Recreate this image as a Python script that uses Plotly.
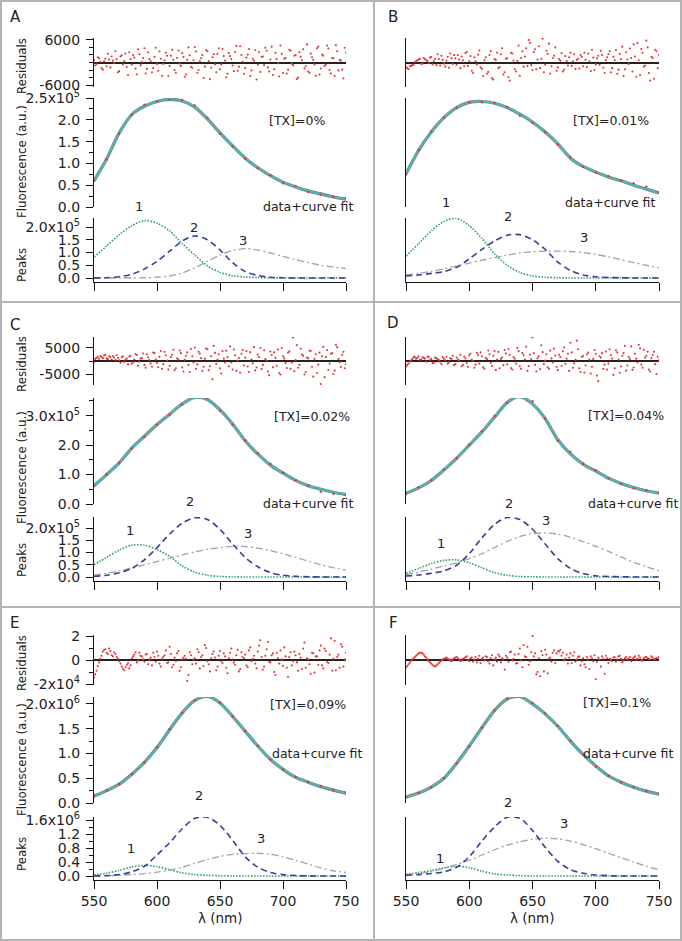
import numpy as np
import plotly.graph_objects as go

W, H = 682, 941
FONT = "DejaVu Sans"

# ---------------- data ----------------
wl_curve = list(range(550, 751, 10))          # wavelength grid for fits / peaks (nm)
x_ticks = [550, 600, 650, 700, 750]

panel_letters = ["A", "B", "C", "D", "E", "F"]
tx_text = ["[TX]=0%", "[TX]=0.01%", "[TX]=0.02%", "[TX]=0.04%", "[TX]=0.09%", "[TX]=0.1%"]
units = [1e5, 1e5, 1e5, 1e5, 1e6, 1e6]        # unit of the fit / peak values below

fit_A = [0.60, 1.10, 1.70, 2.12, 2.31, 2.42, 2.47, 2.43, 2.29, 2.02, 1.70, 1.40, 1.12, 0.90, 0.72, 0.57, 0.46, 0.37, 0.30, 0.23, 0.18]
p1_A = [0.82, 1.25, 1.70, 2.05, 2.25, 2.15, 1.85, 1.35, 0.90, 0.48, 0.22, 0.09, 0.04, 0.02, 0.01, 0.0, 0, 0, 0, 0, 0]
p2_A = [0.0, 0.01, 0.05, 0.15, 0.35, 0.65, 1.05, 1.45, 1.65, 1.50, 1.10, 0.60, 0.25, 0.10, 0.03, 0.01, 0, 0, 0, 0, 0]
p3_A = [0, 0, 0, 0, 0.01, 0.03, 0.08, 0.20, 0.40, 0.65, 0.90, 1.08, 1.15, 1.10, 0.98, 0.85, 0.72, 0.60, 0.50, 0.43, 0.38]

fit_B = [0.76, 1.30, 1.72, 2.05, 2.28, 2.40, 2.42, 2.38, 2.28, 2.13, 1.95, 1.72, 1.45, 1.12, 0.93, 0.80, 0.69, 0.60, 0.50, 0.41, 0.32]
p1_B = [0.86, 1.35, 1.85, 2.22, 2.34, 2.05, 1.55, 0.95, 0.50, 0.22, 0.08, 0.03, 0.01, 0, 0, 0, 0, 0, 0, 0, 0]
p2_B = [0.08, 0.12, 0.18, 0.25, 0.42, 0.75, 1.12, 1.45, 1.68, 1.70, 1.50, 1.12, 0.62, 0.30, 0.12, 0.05, 0.02, 0.01, 0, 0, 0]
p3_B = [0.12, 0.18, 0.26, 0.36, 0.47, 0.58, 0.70, 0.80, 0.90, 0.98, 1.03, 1.05, 1.05, 1.04, 1.00, 0.93, 0.83, 0.72, 0.60, 0.50, 0.40]

fit_C = [0.62, 1.00, 1.40, 1.90, 2.30, 2.70, 3.05, 3.40, 3.62, 3.55, 3.20, 2.72, 2.15, 1.70, 1.32, 1.05, 0.80, 0.62, 0.50, 0.40, 0.32]
p1_C = [0.50, 0.80, 1.10, 1.30, 1.30, 1.12, 0.85, 0.45, 0.20, 0.07, 0.02, 0.01, 0, 0, 0, 0, 0, 0, 0, 0, 0]
p2_C = [0.03, 0.07, 0.17, 0.35, 0.70, 1.20, 1.75, 2.20, 2.42, 2.35, 1.95, 1.35, 0.80, 0.42, 0.18, 0.07, 0.03, 0.01, 0, 0, 0]
p3_C = [0.08, 0.15, 0.25, 0.37, 0.50, 0.63, 0.77, 0.90, 1.02, 1.13, 1.20, 1.25, 1.24, 1.18, 1.08, 0.95, 0.80, 0.65, 0.50, 0.38, 0.28]

fit_D = [0.37, 0.55, 0.80, 1.16, 1.55, 2.00, 2.45, 2.95, 3.45, 3.65, 3.40, 2.90, 2.18, 1.70, 1.35, 1.12, 0.88, 0.70, 0.56, 0.45, 0.37]
p1_D = [0.15, 0.35, 0.55, 0.68, 0.70, 0.58, 0.38, 0.18, 0.07, 0.02, 0.01, 0, 0, 0, 0, 0, 0, 0, 0, 0, 0]
p2_D = [0.04, 0.08, 0.15, 0.25, 0.48, 0.95, 1.60, 2.15, 2.43, 2.35, 1.95, 1.35, 0.75, 0.35, 0.14, 0.05, 0.02, 0.01, 0, 0, 0]
p3_D = [0.10, 0.20, 0.32, 0.45, 0.58, 0.75, 0.95, 1.20, 1.45, 1.65, 1.77, 1.80, 1.75, 1.62, 1.45, 1.25, 1.05, 0.82, 0.60, 0.42, 0.26]

fit_E = [0.14, 0.25, 0.38, 0.58, 0.82, 1.12, 1.48, 1.82, 2.07, 2.15, 2.02, 1.75, 1.45, 1.15, 0.88, 0.68, 0.52, 0.42, 0.33, 0.26, 0.20]
p1_E = [0.03, 0.08, 0.16, 0.26, 0.30, 0.27, 0.18, 0.09, 0.04, 0.02, 0.01, 0, 0, 0, 0, 0, 0, 0, 0, 0, 0]
p2_E = [0.0, 0.01, 0.04, 0.12, 0.28, 0.60, 0.95, 1.35, 1.65, 1.68, 1.45, 1.02, 0.55, 0.25, 0.10, 0.04, 0.015, 0.005, 0, 0, 0]
p3_E = [0.0, 0.01, 0.02, 0.04, 0.07, 0.11, 0.17, 0.25, 0.36, 0.47, 0.56, 0.62, 0.64, 0.65, 0.62, 0.55, 0.45, 0.34, 0.23, 0.15, 0.10]

fit_F = [0.12, 0.20, 0.32, 0.50, 0.80, 1.15, 1.52, 1.87, 2.10, 2.15, 2.00, 1.80, 1.55, 1.25, 0.98, 0.75, 0.55, 0.42, 0.32, 0.24, 0.18]
p1_F = [0.05, 0.10, 0.16, 0.23, 0.28, 0.24, 0.14, 0.06, 0.03, 0.01, 0, 0, 0, 0, 0, 0, 0, 0, 0, 0, 0]
p2_F = [0.02, 0.04, 0.07, 0.12, 0.25, 0.55, 1.00, 1.40, 1.68, 1.65, 1.30, 0.82, 0.42, 0.18, 0.08, 0.03, 0.01, 0, 0, 0, 0]
p3_F = [0.03, 0.07, 0.13, 0.22, 0.33, 0.45, 0.60, 0.75, 0.88, 0.98, 1.05, 1.08, 1.06, 1.00, 0.90, 0.78, 0.65, 0.52, 0.40, 0.28, 0.18]

# residuals at even nm (550..750) and odd nm (551..749)
res_A = [600, -400, 1100, -1500, 300, -1000, 800, 1600, -200, 900,
         -2300, 1900, 400, -1200, 2700, -600, 1300, -3100, 2200, 100,
         3800, -1700, 900, -2600, 1500, -400, 2900, -3500, 600, 1800,
         -900, 3400, -2000, 1200, -300, 2500, -3800, 700, 1900, -1400,
         4100, -2700, 300, 2000, -1100, 3000, -4400, 1400, -500, 2300,
         -1800, 3600, 500, -3000, 1700, -800, 2800, -2200, 4300, 200,
         -1500, 2100, -3600, 1000, 3300, -600, -2500, 1600, 3900, -1300,
         800, -3300, 2600, -200, 4500, -2800, 1200, -1900, 3100, -700,
         2000, -4000, 1500, 3500, -1000, -2400, 2400, 700, -3500, 4200,
         -1600, 1800, -600, 3700, -2900, 1100, 4600, -2100, 500, -4200,
         2600]
res_A_odd = [-800, 1400, 200, -1900, 1000, 2300, -1300, 500, 3000, -2600,
             1600, -500, 2400, -3300, 900, 2000, -1600, 3500, -700, 1200,
             -2900, 2700, 300, -1500, 3900, -2200, 1000, -400, 2600, -3600,
             1800, 700, -2700, 3200, -900, 1500, -3200, 4000, -1200, 600,
             2900, -2000, 1100, -4100, 3300, 400, -1400, 2200, -2600, 3800,
             -500, 1700, -3900, 2500, 900, -2300, 4400, -1100, 2000, -3000,
             1300, 3600, -2100, 500, -4500, 2800, 1500, -700, 3100, -2400,
             4200, -1800, 900, -3700, 2300, 1000, -2900, 3400, -300, 1800,
             -4400, 2700, 600, -1600, 4800, -2700, 1400, -500, 3800, -3200,
             2100, -900, 4500, -2000, 1200, -3600, 3000, 700, -1900, 3900]
res_B = [-1200, -1800, -900, -600, 300, 800, -400, 1200, 600, -200,
         1500, 400, -700, 900, 1800, -300, 500, -1400, 1100, 2000,
         -600, 800, 1600, -1000, 2800, 300, -2200, 1400, -500, 3200,
         -1700, 600, -3000, 2000, -4200, 900, 2600, -1200, 3800, -2600,
         1100, -4800, 2400, -1800, 400, -3500, 3000, 1600, -900, 5200,
         -2000, 3500, 800, -1500, 6300, -600, 2300, -2900, 1200, 4000,
         -1300, 500, -2400, 1700, -800, 2600, 300, -1700, 1000, 2000,
         -1000, 700, 2400, -2300, 1300, -500, 1800, 3100, -1400, 600,
         2200, -2600, 1500, 3300, -1900, 900, -3600, 2700, -400, 1200,
         4800, -3800, 600, 3600, -1100, 5800, -2800, 1500, -4300, 3000,
         2000]
res_B_odd = [-1500, -1000, -700, 100, 600, 1000, -300, 900, 400, 1300,
             -500, 1000, 2200, -800, 700, -1100, 1500, 2400, -400, 1100,
             2000, -1500, 600, 2500, -900, 1700, -2800, 300, 2100, -1300,
             -3600, 1400, -2500, 3000, -4500, 700, -1500, 2200, -3200, 1000,
             -3900, 2600, 500, -2400, 4500, 1200, -1100, 3800, 6000, -700,
             2800, -1800, 4300, 1000, -2600, 3100, 5000, -1000, 1800, -2200,
             900, 2500, -1900, 400, 1400, -900, 2200, 700, -1600, 1500,
             2600, -1200, 300, 3400, -2000, 1100, -600, 2000, -2800, 1400,
             3000, -1500, 600, -3000, 2300, 4200, -1800, 800, 3700, -2400,
             1600, 5200, -3300, 2600, -800, 4000, -4800, 1200, 3400, -1500]
res_C = [-500, 1200, 800, 1500, 2100, 1000, 1800, 600, 1300, 2200,
         300, 1400, -400, 900, 1700, -1000, 600, 2300, -300, 1100,
         -1500, 2600, 400, -2200, 3000, -800, 1600, -3000, 3500, 200,
         -1800, 2400, -3500, 1000, 4000, -2500, 500, 3300, -4200, 1800,
         5200, -1300, 2800, -3800, 900, 4500, -2000, -7000, 3100, 600,
         -2800, 3800, -600, 1500, 5600, -3300, 2200, 200, -4500, 4200,
         1300, -2100, 3400, -900, -3600, 2500, 5000, -1500, 700, -4000,
         3600, -2400, 1200, 4400, -5200, 1800, -800, 3200, -3000, 9000,
         400, -2600, 4700, 2000, -4200, 1000, 3800, -6000, 2600, -1400,
         -8800, 5400, 1500, -3400, 2800, -5000, 6200, 800, -2300, 3500,
         -1200]
res_C_odd = [800, 1600, 1900, 1100, 2400, 700, 1500, 1900, 400, 1200,
             -700, 1800, 500, -1300, 2000, -500, 2700, -1800, 900, 2900,
             -2600, 1400, -1000, 3200, 600, -2400, 3800, -1200, 2200, -3300,
             1500, 4300, -2800, 600, 3000, -4000, 2000, -1500, 4600, -600,
             -3000, 3500, 1100, -2200, 4800, -3500, 1800, 5800, -1100, 2600,
             -4800, 900, 3900, -2000, -600, 4400, -3800, 1200, 2800, -1700,
             3800, -4200, 600, 5300, -2500, 1500, -3100, 4100, 200, -5500,
             2300, 3300, -1800, -4600, 5000, 1000, -2700, 3700, -600, -3900,
             6100, -1500, 2500, -5200, 1300, 4000, -2200, 800, -4600, 3200,
             1800, -6200, 4200, -1000, 3000, -3700, 5300, -500, 2400, -2800]
res_D = [-2000, -1000, 300, 1400, 900, 1800, 600, 1200, -300, 1500,
         800, -700, 1100, 400, -1200, 900, 1600, -500, 700, -1600,
         1300, 200, -2000, 1700, -800, 2200, 500, -2600, 3100, -1000,
         1800, -3000, 700, 2600, -1900, 3800, 600, -2800, 1400, 4200,
         -1300, 2300, -3300, 900, 5000, -2000, 3000, 600, -3800, 2500,
         9000, -1500, 1000, -3100, 3400, 200, -2400, 4000, -600, 2100,
         -3500, 1500, 3700, -1100, 2800, 7000, -2600, 500, 4500, -4200,
         1900, -1700, 3200, -4800, 800, 2700, -7700, 1300, -3000, 3600,
         -1000, 2200, -5300, 4100, 600, -2100, 3000, -3700, 1600, 5600,
         -2500, 900, 6200, -1400, 4300, 2000, -3300, 1100, 3500, -5000,
         400]
res_D_odd = [-1500, -300, 800, 1600, 1200, 500, 1400, 900, 1700, 400,
             -900, 1300, 700, -400, 1500, 300, -1000, 1100, 2000, -1200,
             600, 2400, -1500, 1000, -2200, 2800, 100, -1400, 2300, 3300,
             -2400, 1200, 4000, -700, 2000, -3500, 3500, 800, -1600, 2900,
             4600, -2700, 1500, -1000, 3800, -3000, 2200, 5500, -1900, 700,
             3000, -4000, 1800, 6000, -1200, 2600, -3000, 1000, 4800, -2300,
             2400, -1800, 5200, 900, -3800, 3300, -900, 7800, -2800, 1600,
             -4400, 2500, 600, -2200, 4200, -5600, 1800, 3000, -1400, -3300,
             4500, 1000, -2800, 3300, -4500, 2000, 5800, -1700, 800, -3400,
             2800, -600, 4900, -2600, 1300, 3600, -4000, 2300, -1200, 1600]
res_E = [-14500, -9000, -2000, 3500, 8500, 6000, 9500, 4000, 6500, 2500,
         -1000, -5500, -8500, -4000, -7000, 1500, 4500, -2000, 6000, 3000,
         -1500, 5000, 500, -4500, 2500, 7000, -3000, 1000, 4000, -2500,
         11000, -6000, 2000, 5500, -9000, 500, 3500, -17500, 6500, -3500,
         1500, 9000, -7000, 4000, 12500, -1000, -9500, 5000, 2000, -5500,
         7500, -2500, 3000, -11000, 6000, 500, -4000, 8500, -7500, 2500,
         4500, -6000, 10500, 1000, -3000, 7000, 16500, -8000, 3500, 15000,
         -2000, 5500, -12500, 1500, 8000, -5000, 3000, -14000, 6500, -1000,
         4000, -9000, 2000, 9500, -6500, 500, -11500, 5500, 3000, -4000,
         12000, -7000, 7500, -2500, 18000, 1000, -8500, 4500, 13000, -5500,
         6000]
res_E_odd = [-12000, -5000, 1000, 7000, 9000, 5000, 7500, 3000, 5000, 1000,
             -3000, -7500, -6000, -2500, -4500, 3000, 6500, -500, 3500, 500,
             4500, -3500, 2000, 6000, -1500, 3500, -5500, 2500, 8000, -2000,
             5000, -4000, -1000, 7500, -6000, 2000, 1000, -12500, 4000, 500,
             -3000, 6500, 2500, -5000, 10000, -3500, 1500, 7000, -8500, 3500,
             -1000, 5500, -6500, 1500, 9500, -2000, 4000, -9500, 6500, 1500,
             -4500, 8000, -1000, 3500, -7000, 12000, 2500, -5500, 9000, -1500,
             4000, -10000, 6000, -3000, 500, 10500, -6500, 2500, -4500, 7000,
             -2000, 5000, -7500, 14500, 1500, -3500, 6000, -10500, 3000, 8000,
             -4500, 9500, -1500, 4500, -9000, 16000, 2500, -6500, 11000, 500]
res_F = [-6000, -3500, -1000, 1500, 3500, 5500, 6000, 4500, 2000, -1000,
         -3000, -5000, -4500, -2500, -500, 1000, 2000, 500, -1000, 1500,
         2500, 500, -500, 1500, 3000, -1000, 2000, 500, -2000, 3500,
         1000, -500, 2500, -3000, 4000, 500, -1500, 3000, 1500, -8000,
         2000, 6500, -500, 4500, -2500, 9500, -6000, 3000, 11000, -1000,
         20000, 5500, -10000, -13500, 4000, 8500, -11000, 2000, 6000, -2500,
         7500, 8500, 6000, 1000, -3000, 5500, 3500, -1500, 2500, -4500,
         1500, -6000, 500, 3000, -1000, -16000, 2000, -5500, 1000, 3500,
         -2500, 500, 2000, -1500, 3000, 1000, -500, 2500, 1500, -1000,
         2000, 500, 3500, -500, 1500, 2500, 1000, 3000, 500, 1500,
         2500]
res_F_odd = [-5000, -2500, 500, 2500, 4500, 6000, 5500, 3000, 500, -2000,
             -4000, -5500, -3500, -1500, 500, 1500, 1000, -500, 500, 2000,
             1500, -1000, 1000, 2500, 0, 1500, -1500, 2500, 1000, -2500,
             2000, 3000, -1000, 1500, -4500, 2000, 4500, -2000, 500, 3500,
             -1500, 7000, 1000, -3000, 5000, -500, 12500, 2500, -4000, 6500,
             3000, -12000, 1500, 7500, -9500, 4500, 1000, -1500, 8000, 5500,
             7000, 3500, -500, 4500, 2000, -2500, 6500, 500, 3000, -1000,
             -3500, 2500, -7500, 1500, 4000, -1500, 500, 3000, -11500, 1500,
             1000, -1000, 2500, 500, 3500, -2000, 1500, 500, 2500, 1000,
             3000, 1000, 2000, -500, 2500, 1500, 500, 2000, 1000, 1500]

fits = [fit_A, fit_B, fit_C, fit_D, fit_E, fit_F]
peak1 = [p1_A, p1_B, p1_C, p1_D, p1_E, p1_F]
peak2 = [p2_A, p2_B, p2_C, p2_D, p2_E, p2_F]
peak3 = [p3_A, p3_B, p3_C, p3_D, p3_E, p3_F]
resids = [res_A, res_B, res_C, res_D, res_E, res_F]
resids_odd = [res_A_odd, res_B_odd, res_C_odd, res_D_odd, res_E_odd, res_F_odd]

# tick labels per row
res_tickvals = [[-6000, 6000], [-5000, 5000], [-20000, 0, 20000]]
res_ticktext = [["-6000", "6000"], ["-5000", "5000"], ["-2x10<sup>4</sup>", "0", "2"]]
flu_tickvals = [[0, 0.5e5, 1.0e5, 1.5e5, 2.0e5, 2.5e5], [0, 1e5, 2e5, 3e5], [0, 0.5e6, 1.0e6, 1.5e6, 2.0e6]]
flu_ticktext = [["0.0", "0.5", "1.0", "1.5", "2.0", "2.5x10<sup>5</sup>"],
                ["0.0", "1.0", "2.0", "3.0x10<sup>5</sup>"],
                ["0.0", "0.5", "1.0", "1.5", "2.0x10<sup>6</sup>"]]
pk_tickvals = [[0, 0.5e5, 1.0e5, 1.5e5, 2.0e5], [0, 0.5e5, 1.0e5, 1.5e5, 2.0e5], [0, 0.4e6, 0.8e6, 1.2e6, 1.6e6]]
pk_ticktext = [["0.0", "0.5", "1.0", "1.5", "2.0x10<sup>5</sup>"],
               ["0.0", "0.5", "1.0", "1.5", "2.0x10<sup>5</sup>"],
               ["0.0", "0.4", "0.8", "1.2", "1.6x10<sup>6</sup>"]]

# ---------------- geometry (pixels) ----------------
col_px = [(94, 346), (406, 659)]
row_px = [(38, 87, 98, 207, 218, 282),
          (337, 385, 398, 504, 517, 581),
          (635, 685, 697, 803, 817, 880)]
res_lim = [6500, 9200, 20830]
flu_lim = [2.5e5, 3.6e5, 2.14e6]
pk_lim = [(-0.157e5, 2.353e5), (-0.163e5, 2.45e5), (-0.114e6, 1.686e6)]
res_minor = [list(np.arange(-6000, 6001, 2000)), [0], [-10000, 10000]]
flu_minor = [list(np.arange(0, 2.5e5, 0.25e5)), list(np.arange(0, 3.6e5, 0.5e5)), list(np.arange(0, 2.14e6, 0.25e6))]
pk_minor = [None, None, list(np.arange(0, 1.7e6, 0.2e6))]


def px_x(px):
    return px / W


def px_y(py):
    return 1 - py / H


C_RES = "#e3363b"
C_FIT = "#4cb8bb"
C_EDGE = "#7d7d7d"
C_P1 = "#23a072"
C_P2 = "#3a3d98"
C_P3 = "#a2a2a2"
AX = "#111111"

fig = go.Figure()
lay = {}


def yaxis_dict(domain, rng, anchor, left, tv=None, tt=None, minor=None, zeroline=False):
    d = dict(domain=domain, range=rng, anchor=anchor, showline=True, linecolor=AX, linewidth=1.3,
             showgrid=False, zeroline=zeroline, zerolinecolor="#222", zerolinewidth=1.8,
             automargin=False)
    if left:
        d.update(tickmode="array", tickvals=tv, ticktext=tt, ticks="outside", ticklen=7,
                 tickwidth=1.2, tickcolor=AX, tickfont=dict(family=FONT, size=14, color="#222"),
                 ticklabelstandoff=3)
        if minor is not None:
            d["minor"] = dict(tickmode="array", tickvals=minor, ticks="outside", ticklen=4,
                              tickwidth=1, tickcolor=AX)
    else:
        d.update(ticks="", showticklabels=False)
    return d


for p in range(6):
    row, col = divmod(p, 2)
    left = col == 0
    x0, x1 = col_px[col]
    rt, rb, ft, fb, kt, kb = row_px[row]
    u = units[p]
    xdom = [px_x(x0), px_x(x1)]
    ids = [p * 3 + k + 1 for k in range(3)]
    names = [("x" if i == 1 else f"x{i}", "y" if i == 1 else f"y{i}") for i in ids]
    keys = [("xaxis" if i == 1 else f"xaxis{i}", "yaxis" if i == 1 else f"yaxis{i}") for i in ids]

    res = np.array(resids[p], dtype=float)
    res_o = np.array(resids_odd[p], dtype=float)
    x_res = np.linspace(550, 750, len(res))
    x_res_o = np.linspace(551, 749, len(res_o))
    fit = np.array(fits[p]) * u
    sub = np.round(np.linspace(0, len(res) - 1, len(wl_curve))).astype(int)
    data = fit + res[sub]

    # residuals
    (xr, yr), (kx, ky) = names[0], keys[0]
    lay[kx] = dict(domain=xdom, range=[550, 750], anchor=yr, visible=False, automargin=False)
    lay[ky] = yaxis_dict([px_y(rb), px_y(rt)], [-res_lim[row], res_lim[row]], xr, left,
                         res_tickvals[row], res_ticktext[row], res_minor[row], zeroline=True)
    fig.add_trace(go.Scatter(x=np.concatenate([x_res, x_res_o]), y=np.concatenate([res, res_o]),
                             mode="markers", xaxis=xr, yaxis=yr,
                             marker=dict(size=2.1, color=C_RES), hoverinfo="skip"))

    # fluorescence
    (xf, yf), (kx, ky) = names[1], keys[1]
    lay[kx] = dict(domain=xdom, range=[550, 750], anchor=yf, visible=False, automargin=False)
    lay[ky] = yaxis_dict([px_y(fb), px_y(ft)], [0, flu_lim[row]], xf, left,
                         flu_tickvals[row], flu_ticktext[row], flu_minor[row])
    fig.add_trace(go.Scatter(x=wl_curve, y=fit, mode="lines", xaxis=xf, yaxis=yf,
                             line=dict(color=C_EDGE, width=3.2, shape="spline", smoothing=0.8),
                             hoverinfo="skip"))
    fig.add_trace(go.Scatter(x=wl_curve, y=fit, mode="lines", xaxis=xf, yaxis=yf,
                             line=dict(color=C_FIT, width=2.0, shape="spline", smoothing=0.8),
                             hoverinfo="skip"))
    fig.add_trace(go.Scatter(x=wl_curve, y=data, mode="markers", xaxis=xf, yaxis=yf,
                             marker=dict(size=2.4, color=C_RES), hoverinfo="skip"))

    # peaks
    (xk, yk), (kx, ky) = names[2], keys[2]
    lay[kx] = dict(domain=xdom, range=[550, 750], anchor=yk, showline=True, linecolor=AX,
                   linewidth=1.3, ticks="outside", ticklen=8, tickwidth=1.3, tickcolor=AX,
                   tickmode="array", tickvals=x_ticks, showticklabels=(row == 2),
                   tickfont=dict(family=FONT, size=14, color="#222"), showgrid=False, zeroline=False,
                   automargin=False)
    lay[ky] = yaxis_dict([px_y(kb), px_y(kt)], list(pk_lim[row]), xk, left,
                         pk_tickvals[row], pk_ticktext[row], pk_minor[row])
    fig.add_trace(go.Scatter(x=wl_curve, y=np.array(peak1[p]) * u, mode="lines", xaxis=xk, yaxis=yk,
                             line=dict(color=C_P1, width=1.6, dash="1.5px,1.5px", shape="spline", smoothing=0.8),
                             hoverinfo="skip"))
    fig.add_trace(go.Scatter(x=wl_curve, y=np.array(peak3[p]) * u, mode="lines", xaxis=xk, yaxis=yk,
                             line=dict(color=C_P3, width=1.3, dash="7px,3px,2px,3px", shape="spline", smoothing=0.8),
                             hoverinfo="skip"))
    fig.add_trace(go.Scatter(x=wl_curve, y=np.array(peak2[p]) * u, mode="lines", xaxis=xk, yaxis=yk,
                             line=dict(color=C_P2, width=1.6, dash="6px,4px", shape="spline", smoothing=0.8),
                             hoverinfo="skip"))

# ---------------- text ----------------
ann = []


def txt(s, x, y, size=12.5, xanchor="center", angle=0):
    ann.append(dict(text=s, x=px_x(x), y=px_y(y), xref="paper", yref="paper", showarrow=False,
                    xanchor=xanchor, yanchor="middle", textangle=angle,
                    font=dict(family=FONT, size=size, color="#222")))


letter_pos = [(15, 17), (393, 17), (15, 325), (393, 323), (14, 623), (393, 623)]
tx_pos = [(267, 121), (571, 121), (272, 416), (586, 415), (268, 704), (581, 702)]
fitlab_pos = [(261, 207), (563, 203), (261, 504), (586, 503), (270, 753), (581, 753)]
peaklab_pos = [[(139, 207), (194, 227), (243, 240)],
               [(446, 203), (508, 216), (584, 237)],
               [(130, 530), (190, 502), (248, 533)],
               [(441, 543), (509, 503), (546, 520)],
               [(131, 848), (199, 795), (261, 838)],
               [(440, 858), (508, 802), (564, 823)]]
for p in range(6):
    txt(panel_letters[p], *letter_pos[p], size=15)
    txt(tx_text[p], *tx_pos[p], size=12.5, xanchor="left")
    txt("data+curve fit", *fitlab_pos[p], size=12.5, xanchor="left")
    for k, lab in enumerate(["1", "2", "3"]):
        txt(lab, *peaklab_pos[p][k], size=13)

title_y = [(66, 162, 265), (364, 468, 560), (663, 760, 854)]
for r in range(3):
    txt("Residuals", 22, title_y[r][0], size=11.8, angle=-90)
    txt("Fluorescence (a.u.)", 22, title_y[r][1], size=11.8, angle=-90)
    txt("Peaks", 22, title_y[r][2], size=11.8, angle=-90)

txt("λ (nm)", 220, 918, size=13.5)
txt("λ (nm)", 532, 918, size=13.5)

# ---------------- panel borders ----------------
BC = "#b3b3b3"
shapes = [
    dict(type="rect", xref="paper", yref="paper", x0=px_x(1), x1=px_x(681), y0=px_y(940), y1=px_y(1),
         line=dict(color=BC, width=2)),
    dict(type="line", xref="paper", yref="paper", x0=px_x(374), x1=px_x(374), y0=px_y(940), y1=px_y(1),
         line=dict(color=BC, width=2)),
    dict(type="line", xref="paper", yref="paper", x0=px_x(1), x1=px_x(681), y0=px_y(302), y1=px_y(302),
         line=dict(color=BC, width=2)),
    dict(type="line", xref="paper", yref="paper", x0=px_x(1), x1=px_x(681), y0=px_y(607), y1=px_y(607),
         line=dict(color=BC, width=2)),
]

fig.update_layout(width=W, height=H, margin=dict(l=0, r=0, t=0, b=0, pad=0, autoexpand=False),
                  paper_bgcolor="white", plot_bgcolor="white", showlegend=False,
                  annotations=ann, shapes=shapes, font=dict(family=FONT), **lay)
fig.write_html("out.html", config={"displayModeBar": False},
               post_script="document.body.style.margin='0';document.body.style.overflow='hidden';")
